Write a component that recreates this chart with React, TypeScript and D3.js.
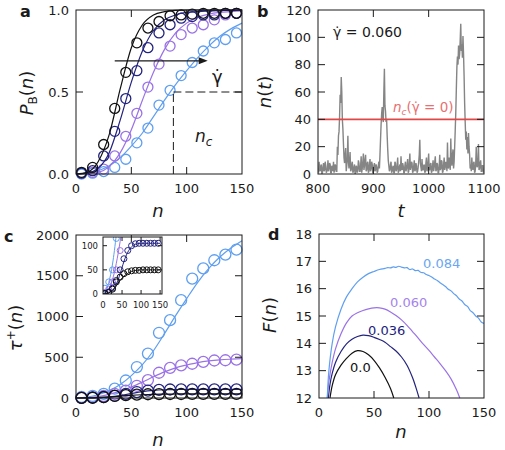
import * as d3 from "d3";
import React from "react";

const FONT = "'DejaVu Sans', sans-serif";
const INK = "#1a1a1a";
const BLACK = "#111111";
const NAVY = "#23237f";
const PURPLE = "#9a72e6";
const BLUE = "#5f9ff0";
const GREY = "#858585";
const RED = "#e04848";
const GAMMA_DOT = "\u03B3\u0307";

// measured points, n = 5, 15, ..., 145
const nSamples = [5, 15, 25, 35, 45, 55, 65, 75, 85, 95, 105, 115, 125, 135, 145];

// panel a: committor P_B(n)
const pbBlack = [0.01, 0.04, 0.18, 0.4, 0.62, 0.8, 0.89, 0.93, 0.965, 0.97, 0.975, 0.98, 0.98, 0.98, 0.98];
const pbNavy = [0.005, 0.02, 0.11, 0.26, 0.46, 0.63, 0.77, 0.86, 0.91, 0.95, 0.96, 0.97, 0.97, 0.98, 0.98];
const pbPurple = [0.005, 0.01, 0.03, 0.11, 0.23, 0.37, 0.53, 0.67, 0.78, 0.85, 0.89, 0.91, 0.94, 0.97, 0.98];
const pbBlue = [0, 0.005, 0.015, 0.04, 0.09, 0.19, 0.28, 0.42, 0.51, 0.6, 0.68, 0.75, 0.8, 0.82, 0.86];

// fitted curves on a 10-step grid
const fitN = [0, 10, 20, 30, 40, 50, 60, 70, 80, 90, 100, 110, 120, 130, 140, 150];
const pbBlackFit = [0, 0.01, 0.075, 0.24, 0.52, 0.77, 0.91, 0.97, 0.99, 0.998, 1, 1, 1, 1, 1, 1];
const pbNavyFit = [0, 0.005, 0.035, 0.13, 0.33, 0.56, 0.75, 0.875, 0.94, 0.97, 0.985, 0.99, 0.995, 0.997, 0.998, 1];
const pbPurpleFit = [0, 0.002, 0.01, 0.045, 0.13, 0.27, 0.45, 0.62, 0.76, 0.86, 0.92, 0.955, 0.975, 0.985, 0.99, 0.995];
const pbBlueFit = [0, 0.005, 0.02, 0.05, 0.1, 0.17, 0.25, 0.35, 0.45, 0.545, 0.63, 0.71, 0.78, 0.84, 0.885, 0.92];
const ncValue = 88;

// panel b: cluster size trace, t = 800..1100, one value per unit time
const traceStart = 800;
const traceValues = [
  4, 1, 9, 3, 2, 6, 7, 0, 1, 5, 8, 2, 3, 9, 6, 1, 2, 4, 10, 2,
  4, 8, 7, 1, 1, 6, 5, 2, 9, 1, 3, 7, 6, 2, 2, 20, 14, 28, 31, 42,
  58, 52, 71, 60, 40, 33, 22, 12, 8, 14, 19, 2, 6, 12, 28, 9, 4, 10, 16, 2,
  3, 7, 9, 1, 2, 5, 7, 0, 1, 6, 5, 1, 3, 10, 8, 2, 2, 6, 13, 1,
  4, 9, 15, 3, 6, 11, 14, 2, 3, 8, 9, 1, 2, 7, 11, 2, 4, 9, 7, 1,
  1, 6, 8, 2, 3, 7, 5, 1, 2, 6, 9, 4, 14, 25, 36, 44, 49, 42, 38, 60,
  77, 50, 46, 38, 40, 28, 18, 10, 6, 2, 3, 7, 9, 1, 2, 5, 6, 1, 1, 9,
  8, 2, 3, 6, 12, 1, 2, 5, 7, 2, 13, 4, 3, 8, 6, 1, 1, 6, 9, 2,
  4, 7, 11, 1, 2, 8, 15, 3, 5, 9, 8, 1, 2, 6, 10, 2, 3, 8, 6, 1,
  2, 5, 9, 14, 25, 8, 5, 2, 11, 3, 3, 6, 7, 1, 2, 8, 12, 2, 4, 9,
  15, 3, 3, 7, 8, 1, 2, 6, 10, 2, 5, 9, 13, 2, 3, 8, 7, 1, 1, 5,
  14, 3, 4, 10, 9, 1, 2, 7, 12, 3, 5, 9, 8, 2, 23, 6, 4, 12, 11, 3,
  26, 10, 6, 14, 18, 4, 9, 20, 32, 45, 62, 78, 86, 80, 94, 84, 88, 98, 110, 90,
  95, 85, 101, 88, 72, 52, 38, 25, 31, 18, 27, 15, 30, 20, 14, 4, 7, 2, 12, 5,
  3, 8, 9, 1, 2, 7, 20, 6, 5, 9, 22, 3, 4, 8, 10, 2, 2, 6, 6, 1,
  3,
];
const ncZeroShear = 40;

// panel c: tau+(n)
const tauBlue = [12, 25, 50, 115, 215, 380, 545, 800, 955, 1200, 1465, 1590, 1690, 1760, 1820];
const tauPurple = [3, 10, 25, 50, 90, 150, 220, 310, 370, 400, 420, 443, 460, 463, 470];
const tauNavy = [1, 4, 12, 28, 50, 73, 90, 100, 104, 105, 105, 105, 105, 105, 105];
const tauBlack = [1, 3, 10, 25, 35, 42, 46, 48, 49, 49, 50, 50, 50, 50, 50];
const tauBlueFit = [0, 12, 40, 90, 165, 275, 410, 580, 790, 1010, 1220, 1420, 1590, 1730, 1840, 1930];
const tauPurpleFit = [0, 5, 18, 45, 85, 135, 195, 260, 320, 370, 405, 435, 455, 468, 476, 482];
const tauNavyFit = [0, 1, 5, 13, 30, 55, 78, 93, 101, 104, 105, 105, 105, 105, 105, 105];
const tauBlackFit = [0, 1, 4, 11, 23, 33, 40, 45, 48, 49, 50, 50, 50, 50, 50, 50];

// panel d: free energy F(n)
const fBlackN = [10, 12, 15, 20, 25, 30, 35, 40, 45, 50, 55, 60, 65, 68];
const fBlack = [12, 12.45, 12.85, 13.2, 13.45, 13.64, 13.73, 13.7, 13.58, 13.38, 13.1, 12.76, 12.35, 12];
const fNavyN = [8.5, 10, 12, 15, 20, 25, 30, 35, 40, 45, 50, 55, 60, 65, 70, 75, 80, 85, 88, 91];
const fNavy = [12, 12.5, 12.9, 13.3, 13.7, 13.98, 14.15, 14.25, 14.3, 14.28, 14.22, 14.14, 14.04, 13.88, 13.72, 13.5, 13.2, 12.75, 12.4, 12];
const fPurpleN = [7.6, 9, 12, 15, 20, 25, 30, 35, 40, 45, 50, 55, 60, 65, 70, 75, 80, 85, 90, 95, 100, 105, 110, 115, 120, 125, 128];
const fPurple = [12, 12.6, 13.3, 13.8, 14.35, 14.75, 15.0, 15.12, 15.2, 15.26, 15.3, 15.3, 15.25, 15.15, 15.02, 14.86, 14.66, 14.43, 14.2, 13.96, 13.74, 13.5, 13.26, 13.0, 12.7, 12.3, 12];
const fBlueN = [
  7.5, 9, 12, 15, 20, 25, 30, 35, 40, 45, 50, 55, 60, 62.5, 65, 67.5, 70, 72.5, 75, 77.5, 80,
  82.5, 85, 87.5, 90, 92.5, 95, 97.5, 100, 102.5, 105, 107.5, 110, 112.5, 115, 117.5, 120,
  122.5, 125, 127.5, 130, 132.5, 135, 137.5, 140, 142.5, 145, 147.5, 150,
];
const fBlue = [
  12, 13.0, 14.0, 14.6, 15.25, 15.7, 16.0, 16.25, 16.42, 16.55, 16.63, 16.7, 16.74, 16.77, 16.76, 16.8, 16.78, 16.82, 16.79, 16.76, 16.77,
  16.7, 16.72, 16.66, 16.67, 16.6, 16.58, 16.52, 16.48, 16.43, 16.35, 16.3, 16.22, 16.15, 16.08, 15.98, 15.92,
  15.82, 15.74, 15.62, 15.55, 15.42, 15.35, 15.2, 15.12, 15.0, 14.92, 14.78, 14.73,
];
const shearLabels = ["0.0", "0.036", "0.060", "0.084"];

type Box = { l: number; r: number; t: number; b: number };
type Scale = d3.ScaleLinear<number, number>;

const boxA: Box = { l: 76, r: 242, t: 10, b: 174 };
const boxB: Box = { l: 318, r: 484, t: 10, b: 174 };
const boxC: Box = { l: 76, r: 242, t: 235, b: 398 };
const boxD: Box = { l: 319, r: 484, t: 234, b: 398 };
const boxIn: Box = { l: 103, r: 162, t: 237, b: 294 };

function Frame(props: {
  box: Box; x: Scale; y: Scale; xTicks: number[]; yTicks: number[];
  xFmt?: (v: number) => string; yFmt?: (v: number) => string;
  tick?: number; fs?: number; xDy?: number; yDx?: number;
}) {
  const { box, x, y, xTicks, yTicks, tick = 7, fs = 13, xDy = 14, yDx = 7 } = props;
  const xFmt = props.xFmt || ((v: number) => String(v));
  const yFmt = props.yFmt || ((v: number) => String(v));
  const innerX = xTicks.filter((v) => x(v) > box.l + 1 && x(v) < box.r - 1);
  const innerY = yTicks.filter((v) => y(v) > box.t + 1 && y(v) < box.b - 1);
  return (
    <g>
      <rect x={box.l} y={box.t} width={box.r - box.l} height={box.b - box.t} fill="none" stroke={INK} strokeWidth={1} />
      {innerX.map((v) => (
        <g key={"x" + v}>
          <line x1={x(v)} x2={x(v)} y1={box.b} y2={box.b - tick} stroke={INK} />
          <line x1={x(v)} x2={x(v)} y1={box.t} y2={box.t + tick} stroke={INK} />
        </g>
      ))}
      {innerY.map((v) => (
        <g key={"y" + v}>
          <line x1={box.l} x2={box.l + tick} y1={y(v)} y2={y(v)} stroke={INK} />
          <line x1={box.r} x2={box.r - tick} y1={y(v)} y2={y(v)} stroke={INK} />
        </g>
      ))}
      {xTicks.map((v) => (
        <text key={"xl" + v} x={x(v)} y={box.b + xDy} dy="0.35em" textAnchor="middle" fontSize={fs} fill={INK}>
          {xFmt(v)}
        </text>
      ))}
      {yTicks.map((v) => (
        <text key={"yl" + v} x={box.l - yDx} y={y(v)} dy="0.35em" textAnchor="end" fontSize={fs} fill={INK}>
          {yFmt(v)}
        </text>
      ))}
    </g>
  );
}

function Series(props: { xs: number[]; ys: number[]; x: Scale; y: Scale; color: string; width?: number; curve?: d3.CurveFactory; clip?: string }) {
  const { xs, ys, x, y, color, width = 1.2, curve = d3.curveMonotoneX, clip } = props;
  const path = d3.line<number>().x((_, i) => x(xs[i])).y((v) => y(v)).curve(curve)(ys) || "";
  return <path d={path} fill="none" stroke={color} strokeWidth={width} clipPath={clip} />;
}

function Dots(props: { xs: number[]; ys: number[]; x: Scale; y: Scale; color: string; r?: number; width?: number; clip?: string }) {
  const { xs, ys, x, y, color, r = 5, width = 1.3, clip } = props;
  return (
    <g clipPath={clip}>
      {ys.map((v, i) => (
        <circle key={i} cx={x(xs[i])} cy={y(v)} r={r} fill="none" stroke={color} strokeWidth={width} />
      ))}
    </g>
  );
}

function PanelA() {
  const x = d3.scaleLinear().domain([0, 150]).range([boxA.l, boxA.r]);
  const y = d3.scaleLinear().domain([0, 1]).range([boxA.b, boxA.t]);
  const sets = [
    { d: pbBlue, f: pbBlueFit, c: BLUE },
    { d: pbPurple, f: pbPurpleFit, c: PURPLE },
    { d: pbNavy, f: pbNavyFit, c: NAVY },
    { d: pbBlack, f: pbBlackFit, c: BLACK },
  ];
  const ay = y(0.69);
  const ax1 = x(35);
  const ax2 = x(119);
  return (
    <g>
      {sets.map((s) => (
        <g key={s.c}>
          <Series xs={fitN} ys={s.f} x={x} y={y} color={s.c} />
          <Dots xs={nSamples} ys={s.d} x={x} y={y} color={s.c} />
        </g>
      ))}
      <line x1={x(ncValue)} x2={x(ncValue)} y1={y(0)} y2={y(0.5)} stroke={INK} strokeDasharray="8,4" />
      <line x1={x(ncValue)} x2={x(150)} y1={y(0.5)} y2={y(0.5)} stroke={INK} strokeDasharray="8,4" />
      <line x1={ax1} x2={ax2 - 8} y1={ay} y2={ay} stroke={INK} strokeWidth={1.2} />
      <polygon points={`${ax2},${ay} ${ax2 - 9},${ay - 3.5} ${ax2 - 9},${ay + 3.5}`} fill={INK} />
      <text x={212} y={83} fontSize={18} fill={INK}>{GAMMA_DOT}</text>
      <text x={195} y={142} fontSize={17} fill={INK}>
        <tspan fontStyle="italic">n</tspan>
        <tspan fontSize={12} dy={4} fontStyle="italic">c</tspan>
      </text>
      <Frame box={boxA} x={x} y={y} xTicks={[0, 50, 100, 150]} yTicks={[0, 0.5, 1]} yFmt={(v) => v.toFixed(1)} />
      <text x={20} y={17} fontSize={16} fontWeight="bold" fill={INK}>a</text>
      <text x={158} y={217} fontSize={18} fontStyle="italic" textAnchor="middle" fill={INK}>n</text>
      <text transform="translate(33,93) rotate(-90)" fontSize={18} textAnchor="middle" fill={INK}>
        <tspan fontStyle="italic">P</tspan>
        <tspan fontSize={12} dy={4}>B</tspan>
        <tspan dy={-4}>(</tspan>
        <tspan fontStyle="italic">n</tspan>
        <tspan>)</tspan>
      </text>
    </g>
  );
}

function PanelB() {
  const x = d3.scaleLinear().domain([800, 1100]).range([boxB.l, boxB.r]);
  const y = d3.scaleLinear().domain([0, 120]).range([boxB.b, boxB.t]);
  const ts = traceValues.map((_, i) => traceStart + i);
  return (
    <g>
      <defs>
        <clipPath id="clipB">
          <rect x={boxB.l} y={boxB.t} width={boxB.r - boxB.l} height={boxB.b - boxB.t} />
        </clipPath>
      </defs>
      <Series xs={ts} ys={traceValues} x={x} y={y} color={GREY} width={1.4} curve={d3.curveLinear} clip="url(#clipB)" />
      <line x1={boxB.l} x2={boxB.r} y1={y(ncZeroShear)} y2={y(ncZeroShear)} stroke={RED} strokeWidth={1.6} />
      <text x={393} y={112} fontSize={13.5} fill="#e87070">
        <tspan fontStyle="italic">n</tspan>
        <tspan fontSize={9} dy={3} fontStyle="italic">c</tspan>
        <tspan dy={-3}>({GAMMA_DOT} = 0)</tspan>
      </text>
      <text x={333} y={37} fontSize={14} fill={INK}>{GAMMA_DOT} = 0.060</text>
      <Frame box={boxB} x={x} y={y} xTicks={[800, 900, 1000, 1100]} yTicks={[0, 20, 40, 60, 80, 100, 120]} />
      <text x={257} y={17} fontSize={16} fontWeight="bold" fill={INK}>b</text>
      <text x={401} y={217} fontSize={18} fontStyle="italic" textAnchor="middle" fill={INK}>t</text>
      <text transform="translate(271,92) rotate(-90)" fontSize={18} textAnchor="middle" fill={INK}>
        <tspan fontStyle="italic">n</tspan>
        <tspan>(</tspan>
        <tspan fontStyle="italic">t</tspan>
        <tspan>)</tspan>
      </text>
    </g>
  );
}

function PanelC() {
  const x = d3.scaleLinear().domain([0, 150]).range([boxC.l, boxC.r]);
  const y = d3.scaleLinear().domain([0, 2000]).range([boxC.b, boxC.t]);
  const xi = d3.scaleLinear().domain([0, 155]).range([boxIn.l, boxIn.r]);
  const yi = d3.scaleLinear().domain([0, 118]).range([boxIn.b, boxIn.t]);
  const sets = [
    { d: tauBlue, f: tauBlueFit, c: BLUE },
    { d: tauPurple, f: tauPurpleFit, c: PURPLE },
    { d: tauNavy, f: tauNavyFit, c: NAVY },
    { d: tauBlack, f: tauBlackFit, c: BLACK },
  ];
  return (
    <g>
      <defs>
        <clipPath id="clipIn">
          <rect x={boxIn.l} y={boxIn.t} width={boxIn.r - boxIn.l} height={boxIn.b - boxIn.t} />
        </clipPath>
      </defs>
      {sets.map((s) => (
        <g key={s.c}>
          <Series xs={fitN} ys={s.f} x={x} y={y} color={s.c} />
          <Dots xs={nSamples} ys={s.d} x={x} y={y} color={s.c} r={5.5} />
        </g>
      ))}
      <rect x={boxIn.l} y={boxIn.t} width={boxIn.r - boxIn.l} height={boxIn.b - boxIn.t} fill="white" />
      {sets.map((s) => (
        <g key={"in" + s.c}>
          <Series xs={fitN} ys={s.f} x={xi} y={yi} color={s.c} width={1} clip="url(#clipIn)" />
          <Dots xs={nSamples} ys={s.d} x={xi} y={yi} color={s.c} r={3} width={1} clip="url(#clipIn)" />
        </g>
      ))}
      <Frame box={boxIn} x={xi} y={yi} xTicks={[0, 50, 100, 150]} yTicks={[0, 50, 100]} tick={4} fs={8.5} xDy={11} yDx={5} />
      <Frame box={boxC} x={x} y={y} xTicks={[0, 50, 100, 150]} yTicks={[0, 500, 1000, 1500, 2000]} />
      <text x={4} y={242} fontSize={16} fontWeight="bold" fill={INK}>c</text>
      <text x={158} y={446} fontSize={18} fontStyle="italic" textAnchor="middle" fill={INK}>n</text>
      <text transform="translate(22,328) rotate(-90)" fontSize={18} textAnchor="middle" fill={INK}>
        <tspan fontStyle="italic">τ</tspan>
        <tspan fontSize={12} dy={-7}>+</tspan>
        <tspan dy={7}>(</tspan>
        <tspan fontStyle="italic">n</tspan>
        <tspan>)</tspan>
      </text>
    </g>
  );
}

function PanelD() {
  const x = d3.scaleLinear().domain([0, 150]).range([boxD.l, boxD.r]);
  const y = d3.scaleLinear().domain([12, 18]).range([boxD.b, boxD.t]);
  const curves = [
    { n: fBlackN, f: fBlack, c: BLACK },
    { n: fNavyN, f: fNavy, c: NAVY },
    { n: fPurpleN, f: fPurple, c: PURPLE },
    { n: fBlueN, f: fBlue, c: BLUE },
  ];
  const labelPos = [
    { x: 350, y: 372, c: BLACK },
    { x: 368, y: 335, c: NAVY },
    { x: 390, y: 307, c: "#a584ec" },
    { x: 423, y: 268, c: "#6aa6f2" },
  ];
  return (
    <g>
      {curves.map((s) => (
        <Series key={s.c} xs={s.n} ys={s.f} x={x} y={y} color={s.c} width={1.2} curve={d3.curveCatmullRom} />
      ))}
      {shearLabels.map((t, i) => (
        <text key={t} x={labelPos[i].x} y={labelPos[i].y} fontSize={13} fill={labelPos[i].c}>{t}</text>
      ))}
      <Frame box={boxD} x={x} y={y} xTicks={[0, 50, 100, 150]} yTicks={[12, 13, 14, 15, 16, 17, 18]} />
      <text x={268} y={240} fontSize={16} fontWeight="bold" fill={INK}>d</text>
      <text x={401} y={438} fontSize={18} fontStyle="italic" textAnchor="middle" fill={INK}>n</text>
      <text transform="translate(276,315) rotate(-90)" fontSize={18} textAnchor="middle" fill={INK}>
        <tspan fontStyle="italic">F</tspan>
        <tspan>(</tspan>
        <tspan fontStyle="italic">n</tspan>
        <tspan>)</tspan>
      </text>
    </g>
  );
}

export default function App() {
  return (
    <svg
      width={505}
      height={450}
      viewBox="0 0 505 450"
      style={{ position: "absolute", left: 0, top: 0, background: "white" }}
      fontFamily={FONT}
    >
      <rect width={505} height={450} fill="white" />
      <PanelA />
      <PanelB />
      <PanelC />
      <PanelD />
    </svg>
  );
}
